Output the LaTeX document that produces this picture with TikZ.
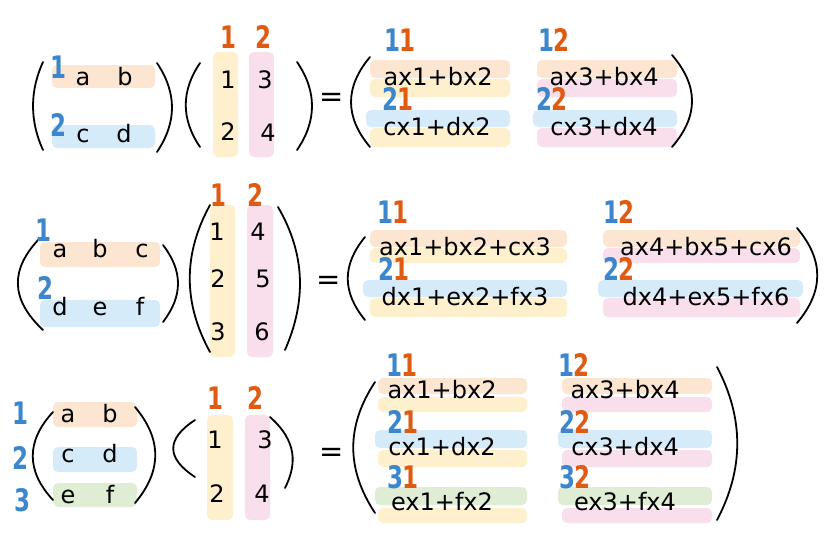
\documentclass[tikz,border=0pt]{standalone}
\usepackage{fontspec}
\usepackage{tikz}
\newfontfamily\entryfam{DejaVu Sans}
\newfontfamily\idxfam[FakeStretch=0.74]{DejaVu Sans}
\definecolor{peachband}{HTML}{FCE5D1}
\definecolor{skyband}{HTML}{D5EBFA}
\definecolor{greenband}{HTML}{DFEDD5}
\definecolor{yellowband}{HTML}{FEF0CD}
\definecolor{pinkband}{HTML}{F9DFEC}
\definecolor{idxblue}{HTML}{3B86CC}
\definecolor{idxorange}{HTML}{E05A12}
\newcommand\idxpair[2]{\textcolor{idxblue}{#1}\kern-1pt\textcolor{idxorange}{#2}}

\begin{document}
\begin{tikzpicture}[x=1pt, y=-1pt,
  band/.style={rounded corners=5pt},
  paren/.style={line width=1.8pt, line cap=round},
  entry/.style={font=\entryfam\fontsize{24}{28}\selectfont, anchor=base, inner sep=0pt},
  equals/.style={font=\entryfam\fontsize{29}{29}\selectfont, inner sep=0pt},
  rowidx/.style={font=\idxfam\bfseries\fontsize{31}{31}\selectfont, text=idxblue, inner sep=0pt},
  colidx/.style={rowidx, text=idxorange}]

\useasboundingbox (0,0) rectangle (834,536);

% first product
\fill[band, peachband] (52,65) rectangle (155,88);
\fill[band, skyband] (52,125) rectangle (155,148);
\fill[band, yellowband] (213,52) rectangle (238,157);
\fill[band, pinkband] (249,52) rectangle (274,157);
\fill[band, peachband] (370,60) rectangle (510,78);
\fill[band, yellowband] (370,79) rectangle (510,97);
\fill[band, skyband] (366,110) rectangle (510,127);
\fill[band, yellowband] (370,128) rectangle (510,147);
\fill[band, peachband] (537,60) rectangle (677,78);
\fill[band, pinkband] (537,79) rectangle (677,97);
\fill[band, skyband] (533,110) rectangle (677,127);
\fill[band, pinkband] (537,128) rectangle (677,147);

\draw[paren] (43,62) .. controls (29.7,91) and (29.7,121) .. (43,150);
\draw[paren] (157,63) .. controls (177,93) and (177,122) .. (157,152);
\draw[paren] (200,63) .. controls (181,91) and (181,119) .. (200,147);
\draw[paren] (297,62) .. controls (317,91) and (317,121) .. (297,150);
\draw[paren] (370,57) .. controls (344.7,87) and (344.7,117) .. (370,147);
\draw[paren] (672,55) .. controls (698.7,86) and (698.7,116) .. (672,147);

\node[rowidx] (one-r1) at (58,67) {1};
\node[rowidx] (one-r2) at (58,125) {2};
\node[entry] (one-a) at (83,85) {a};
\node[entry] (one-b) at (125,85) {b};
\node[entry] (one-c) at (83,142) {c};
\node[entry] (one-d) at (124,142) {d};
\node[colidx] (one-c1) at (228,37) {1};
\node[colidx] (one-c2) at (263,37) {2};
\node[entry] (one-x1) at (228,88) {1};
\node[entry] (one-x3) at (265,88) {3};
\node[entry] (one-x2) at (228,140) {2};
\node[entry] (one-x4) at (268,141) {4};
\node[equals] (one-eq) at (332,100) {=};
\node[rowidx] (one-p11) at (400,40) {\idxpair{1}{1}};
\node[rowidx] (one-p21) at (398,99) {\idxpair{2}{1}};
\node[rowidx] (one-p12) at (554,40) {\idxpair{1}{2}};
\node[rowidx] (one-p22) at (552,99) {\idxpair{2}{2}};
\node[entry] (one-s11) at (438,85) {ax1+bx2};
\node[entry] (one-s21) at (437,135) {cx1+dx2};
\node[entry] (one-s12) at (604,85) {ax3+bx4};
\node[entry] (one-s22) at (604,135) {cx3+dx4};

% second product
\fill[band, peachband] (40,242) rectangle (160,267);
\fill[band, skyband] (40,300) rectangle (160,327);
\fill[band, yellowband] (210,205) rectangle (235,357);
\fill[band, pinkband] (247,205) rectangle (273,357);
\fill[band, peachband] (370,230) rectangle (567,247);
\fill[band, yellowband] (370,248) rectangle (567,263);
\fill[band, skyband] (363,280) rectangle (567,297);
\fill[band, yellowband] (370,298) rectangle (567,317);
\fill[band, peachband] (603,230) rectangle (800,247);
\fill[band, pinkband] (603,248) rectangle (800,263);
\fill[band, skyband] (598,280) rectangle (803,297);
\fill[band, pinkband] (603,298) rectangle (800,317);

\draw[paren] (40,238) .. controls (10,269) and (10,299) .. (43,330);
\draw[paren] (163,245) .. controls (183,271) and (183,296) .. (163,322);
\draw[paren] (210,205) .. controls (183,254) and (183,303) .. (210,352);
\draw[paren] (278,207) .. controls (306,255) and (306,302) .. (285,350);
\draw[paren] (365,237) .. controls (342,265) and (342,292) .. (365,320);
\draw[paren] (797,228) .. controls (824,260) and (824,291) .. (797,323);

\node[rowidx] (two-r1) at (43,230) {1};
\node[rowidx] (two-r2) at (45,288) {2};
\node[entry] (two-a) at (60,257) {a};
\node[entry] (two-b) at (100,257) {b};
\node[entry] (two-c) at (142,257) {c};
\node[entry] (two-d) at (60,315) {d};
\node[entry] (two-e) at (100,315) {e};
\node[entry] (two-f) at (140,315) {f};
\node[colidx] (two-c1) at (218,195) {1};
\node[colidx] (two-c2) at (255,195) {2};
\node[entry] (two-x1) at (217,240) {1};
\node[entry] (two-x4) at (258,240) {4};
\node[entry] (two-x2) at (218,287) {2};
\node[entry] (two-x5) at (263,287) {5};
\node[entry] (two-x3) at (218,340) {3};
\node[entry] (two-x6) at (262,340) {6};
\node[equals] (two-eq) at (329,283) {=};
\node[rowidx] (two-p11) at (393,212) {\idxpair{1}{1}};
\node[rowidx] (two-p21) at (394,269) {\idxpair{2}{1}};
\node[rowidx] (two-p12) at (619,212) {\idxpair{1}{2}};
\node[rowidx] (two-p22) at (619,269) {\idxpair{2}{2}};
\node[entry] (two-s11) at (465,255) {ax1+bx2+cx3};
\node[entry] (two-s21) at (465,305) {dx1+ex2+fx3};
\node[entry] (two-s12) at (706,255) {ax4+bx5+cx6};
\node[entry] (two-s22) at (706,305) {dx4+ex5+fx6};

% third product
\fill[band, peachband] (53,402) rectangle (137,427);
\fill[band, skyband] (53,447) rectangle (137,472);
\fill[band, greenband] (53,483) rectangle (137,507);
\fill[band, yellowband] (207,415) rectangle (233,520);
\fill[band, pinkband] (245,415) rectangle (270,520);
\fill[band, peachband] (378,378) rectangle (527,394);
\fill[band, yellowband] (378,397) rectangle (527,412);
\fill[band, skyband] (375,430) rectangle (527,448);
\fill[band, yellowband] (378,450) rectangle (527,467);
\fill[band, greenband] (375,487) rectangle (527,505);
\fill[band, yellowband] (378,508) rectangle (527,523);
\fill[band, peachband] (562,378) rectangle (712,394);
\fill[band, pinkband] (562,397) rectangle (712,412);
\fill[band, skyband] (558,430) rectangle (712,448);
\fill[band, pinkband] (562,450) rectangle (712,467);
\fill[band, greenband] (558,487) rectangle (712,505);
\fill[band, pinkband] (562,508) rectangle (712,523);

\draw[paren] (53,412) .. controls (26,441) and (26,471) .. (53,500);
\draw[paren] (135,407) .. controls (162,439) and (162,471) .. (135,503);
\draw[paren] (195,420) .. controls (166,439) and (166,458) .. (195,477);
\draw[paren] (270,417) .. controls (297,441) and (297,464) .. (285,488);
\draw[paren] (375,382) .. controls (346,426) and (346,469) .. (375,513);
\draw[paren] (717,367) .. controls (744,418) and (744,469) .. (717,520);

\node[rowidx] (three-r1) at (20,413) {1};
\node[rowidx] (three-r2) at (20,458) {2};
\node[rowidx] (three-r3) at (22,500) {3};
\node[entry] (three-a) at (68,422) {a};
\node[entry] (three-b) at (110,422) {b};
\node[entry] (three-c) at (68,462) {c};
\node[entry] (three-d) at (110,462) {d};
\node[entry] (three-e) at (68,503) {e};
\node[entry] (three-f) at (110,503) {f};
\node[colidx] (three-c1) at (215,398) {1};
\node[colidx] (three-c2) at (255,398) {2};
\node[entry] (three-x1) at (215,448) {1};
\node[entry] (three-x3) at (265,448) {3};
\node[entry] (three-x2) at (217,502) {2};
\node[entry] (three-x4) at (262,502) {4};
\node[equals] (three-eq) at (332,455) {=};
\node[rowidx] (three-p11) at (402,365) {\idxpair{1}{1}};
\node[rowidx] (three-p21) at (403,422) {\idxpair{2}{1}};
\node[rowidx] (three-p31) at (403,477) {\idxpair{3}{1}};
\node[rowidx] (three-p12) at (574,365) {\idxpair{1}{2}};
\node[rowidx] (three-p22) at (575,422) {\idxpair{2}{2}};
\node[rowidx] (three-p32) at (575,477) {\idxpair{3}{2}};
\node[entry] (three-s11) at (442,398) {ax1+bx2};
\node[entry] (three-s21) at (442,455) {cx1+dx2};
\node[entry] (three-s31) at (442,510) {ex1+fx2};
\node[entry] (three-s12) at (625,398) {ax3+bx4};
\node[entry] (three-s22) at (625,455) {cx3+dx4};
\node[entry] (three-s32) at (625,510) {ex3+fx4};

\end{tikzpicture}
\end{document}
